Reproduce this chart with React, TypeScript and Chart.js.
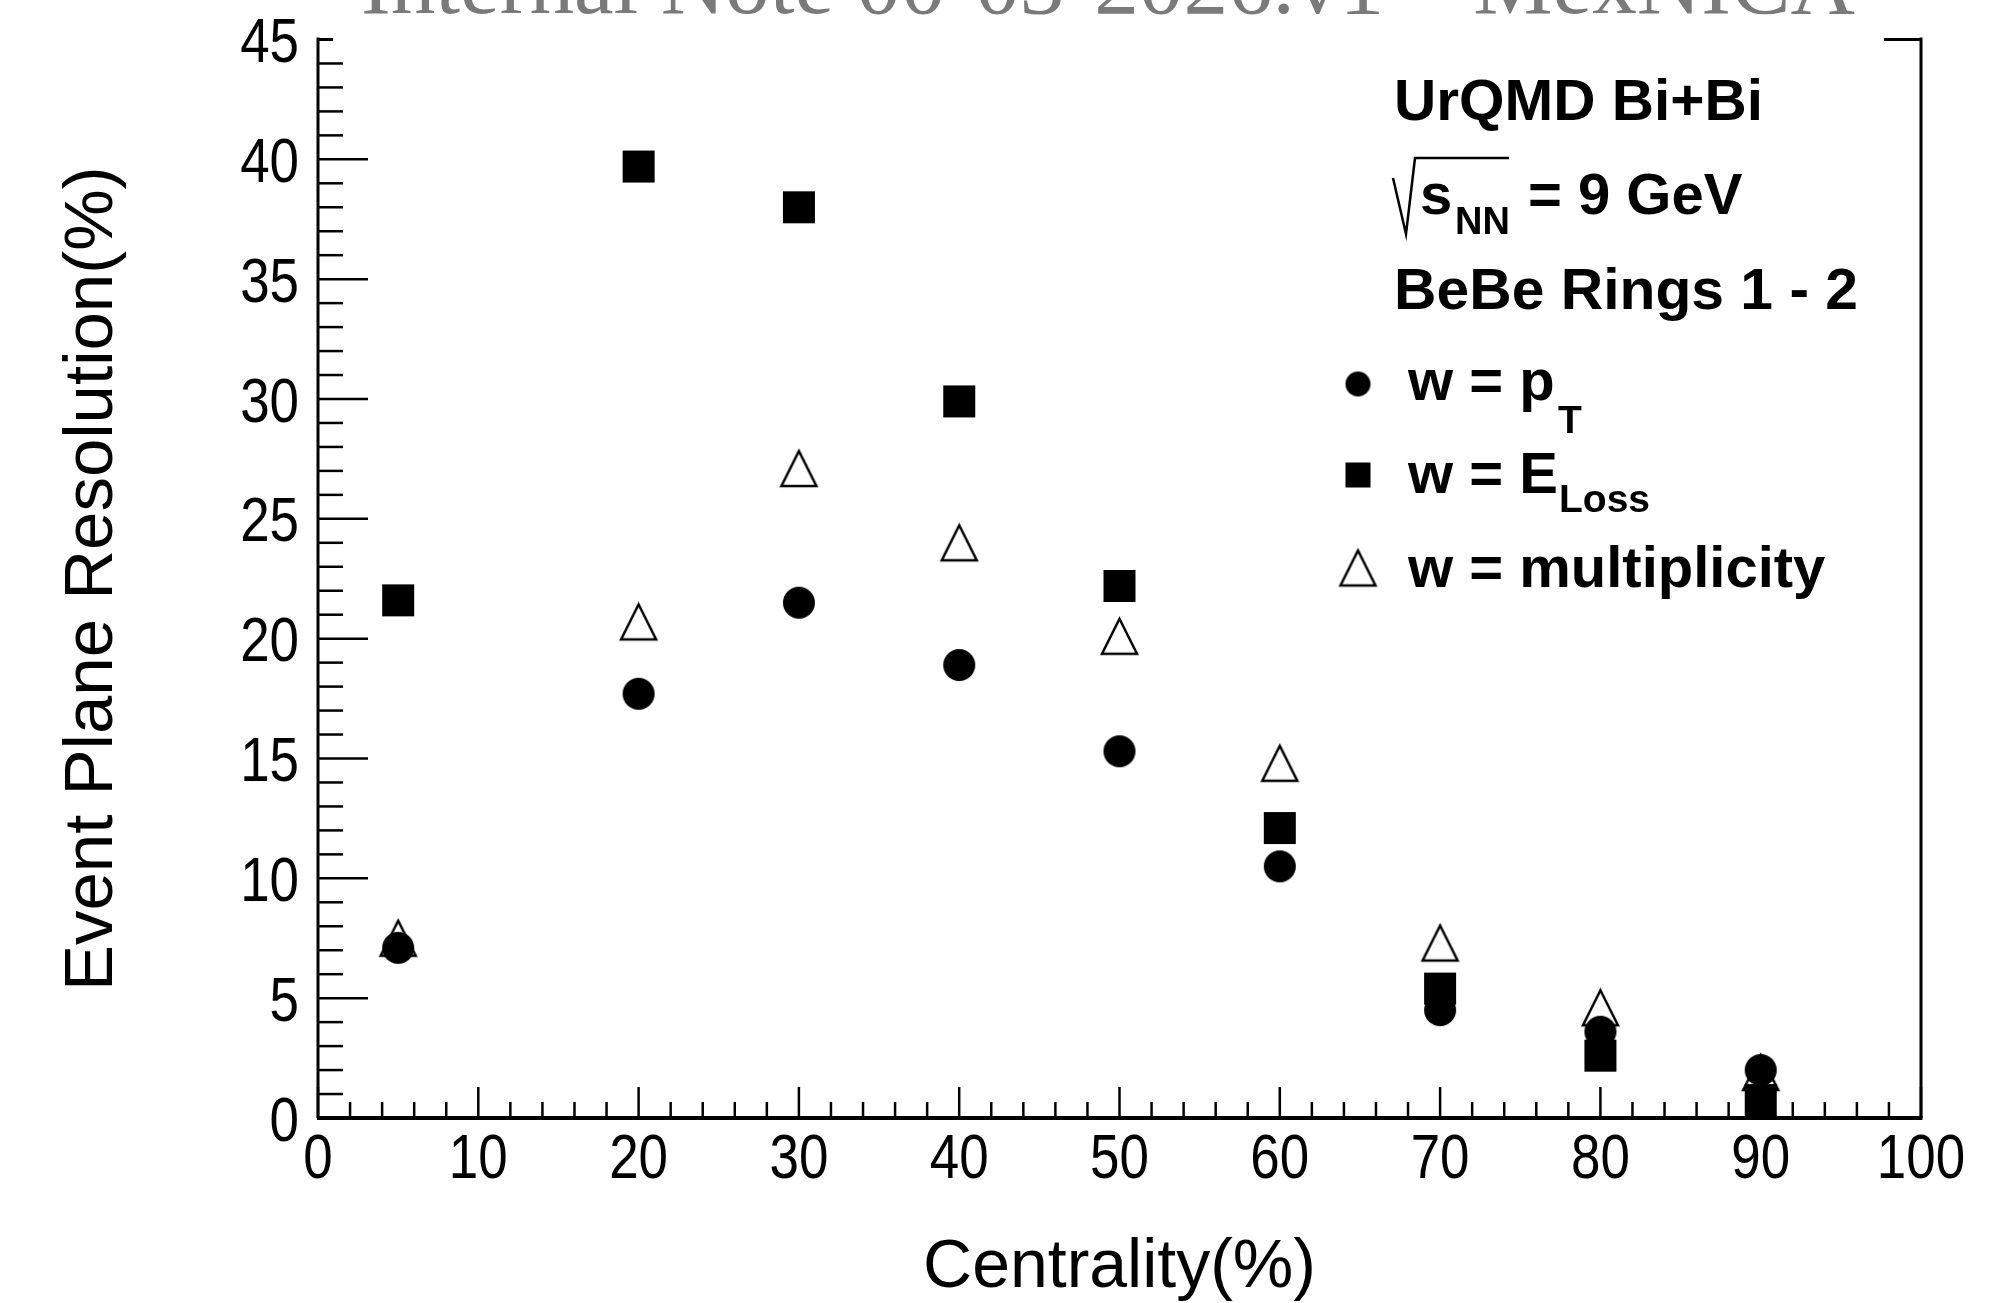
import React, { useEffect, useRef } from 'react';
import { Chart, registerables } from 'chart.js';

Chart.register(...registerables);

// ---- data ----
const centrality = [5, 20, 30, 40, 50, 60, 70, 80, 90];
const resolutionPt = [7.1, 17.7, 21.5, 18.9, 15.3, 10.5, 4.5, 3.6, 2.0];
const resolutionEloss = [21.6, 39.7, 38.0, 29.9, 22.2, 12.1, 5.4, 2.6, 0.75];
const resolutionMult = [7.5, 20.7, 27.1, 24.0, 20.1, 14.8, 7.3, 4.6, 1.9];

const xTitle = 'Centrality(%)';
const yTitle = 'Event Plane Resolution(%)';
const headerText = 'Internal Note 00-03-2026.v1 \u2013 MexNICA';
const systemLabel = 'UrQMD Bi+Bi';
const energyLabel = '= 9 GeV';
const detectorLabel = 'BeBe Rings 1 - 2';
const legendMain = ['w = p', 'w = E', 'w = multiplicity'];
const legendSub = ['T', 'Loss', ''];

const SANS = '"Liberation Sans", Arimo, Arial, sans-serif';
const SERIF = '"Liberation Serif", "DejaVu Serif", serif';

type Kind = 'circle' | 'square' | 'triangle';

function makeMarker(kind: Kind, size: number): HTMLCanvasElement {
  const pad = 3;
  const c = document.createElement('canvas');
  const dim = Math.ceil(size + 2 * pad);
  c.width = dim;
  c.height = dim;
  const g = c.getContext('2d')!;
  const m = dim / 2;
  g.fillStyle = '#000';
  g.strokeStyle = '#000';
  if (kind === 'circle') {
    g.beginPath();
    g.arc(m, m, size / 2, 0, Math.PI * 2);
    g.fill();
  } else if (kind === 'square') {
    g.fillRect(m - size / 2, m - size / 2, size, size);
  } else {
    g.lineWidth = 2.5;
    g.lineJoin = 'miter';
    g.beginPath();
    g.moveTo(m, m - size / 2);
    g.lineTo(m + size / 2, m + size / 2);
    g.lineTo(m - size / 2, m + size / 2);
    g.closePath();
    g.stroke();
  }
  return c;
}

function fitText(ctx: CanvasRenderingContext2D, text: string, x: number, y: number, width: number) {
  const w = ctx.measureText(text).width;
  ctx.save();
  ctx.translate(x, y);
  ctx.scale(width / w, 1);
  ctx.fillText(text, 0, 0);
  ctx.restore();
}

// narrow (condensed) tick label, as in the reference
function narrowText(ctx: CanvasRenderingContext2D, text: string, x: number, y: number, align: CanvasTextAlign) {
  ctx.save();
  ctx.translate(x, y);
  ctx.scale(0.84, 1);
  ctx.textAlign = align;
  ctx.fillText(text, 0, 0);
  ctx.restore();
}

export default function App() {
  const canvasRef = useRef<HTMLCanvasElement | null>(null);

  useEffect(() => {
    document.body.style.margin = '0';
    document.body.style.overflow = 'hidden';
    const canvas = canvasRef.current;
    if (!canvas) return;

    const circle = makeMarker('circle', 32);
    const square = makeMarker('square', 32);
    const triangle = makeMarker('triangle', 35);
    const legCircle = makeMarker('circle', 25);
    const legSquare = makeMarker('square', 25);
    const legTriangle = makeMarker('triangle', 35);

    const framePlugin = {
      id: 'rootFrame',
      beforeDatasetsDraw(chart: any) {
        const { ctx, chartArea: a, scales } = chart;
        const x = scales.x;
        const y = scales.y;
        const line = (x1: number, y1: number, x2: number, y2: number) => {
          ctx.beginPath();
          ctx.moveTo(x1, y1);
          ctx.lineTo(x2, y2);
          ctx.stroke();
        };
        ctx.save();
        ctx.strokeStyle = '#000';
        ctx.lineCap = 'butt';
        ctx.lineWidth = 2.5;
        for (let v = y.min; v <= y.max + 1e-9; v += 1) {
          const py = y.getPixelForValue(v);
          const len = Math.round(v) % 5 === 0 ? 50 : 25;
          line(a.left, py, a.left + len, py);
        }
        for (let v = x.min; v <= x.max + 1e-9; v += 2) {
          const px = x.getPixelForValue(v);
          const len = Math.round(v) % 10 === 0 ? 31 : 16;
          line(px, a.bottom, px, a.bottom - len);
        }
        ctx.lineWidth = 3;
        line(a.left, a.top - 2, a.left, a.bottom);
        line(a.right, a.top - 2, a.right, a.bottom);
        line(a.left, a.top, a.right, a.top);
        ctx.lineWidth = 4;
        line(a.left - 1, a.bottom, a.right + 1.5, a.bottom);

        // tick labels from the library's scales
        ctx.fillStyle = '#000';
        ctx.font = `63px ${SANS}`;
        ctx.textBaseline = 'alphabetic';
        for (const t of y.ticks) {
          const py = y.getPixelForValue(t.value);
          narrowText(ctx, String(t.value), a.left - 19, py + 22.5, 'right');
        }
        for (const t of x.ticks) {
          const px = x.getPixelForValue(t.value);
          narrowText(ctx, String(t.value), px, a.bottom + 60, 'center');
        }
        ctx.restore();
      },
      afterDraw(chart: any) {
        const { ctx, chartArea: a } = chart;
        ctx.save();
        // header pave
        ctx.fillStyle = '#fff';
        ctx.fillRect(a.left + 15, 0, 1884 - a.left - 15, a.top + 8);
        ctx.fillStyle = '#7a7a7a';
        ctx.textBaseline = 'alphabetic';
        ctx.textAlign = 'left';
        ctx.font = `100px ${SERIF}`;
        const hw = ctx.measureText(headerText).width;
        const hs = (100 * 1494) / hw;
        ctx.font = `${hs}px ${SERIF}`;
        ctx.fillText(headerText, 361, 13);

        // annotation
        ctx.fillStyle = '#000';
        ctx.font = `bold 58px ${SANS}`;
        fitText(ctx, systemLabel, 1394, 120, 369);

        ctx.strokeStyle = '#000';
        ctx.lineWidth = 2.5;
        ctx.beginPath();
        ctx.moveTo(1393, 178);
        ctx.lineTo(1406, 234);
        ctx.lineTo(1415, 158);
        ctx.lineTo(1509, 158);
        ctx.stroke();
        ctx.font = `bold 58px ${SANS}`;
        ctx.fillText('s', 1420, 214);
        ctx.font = `bold 38px ${SANS}`;
        ctx.fillText('NN', 1455, 234);
        ctx.font = `bold 58px ${SANS}`;
        ctx.fillText(energyLabel, 1528, 214);

        fitText(ctx, detectorLabel, 1394, 309, 464);

        // legend
        const marks = [legCircle, legSquare, legTriangle];
        const my = [384, 475, 568];
        const base = [400, 493, 587];
        const subX = [1558, 1559, 0];
        const subBase = [433, 512, 0];
        for (let i = 0; i < 3; i++) {
          const m = marks[i];
          ctx.drawImage(m, 1358 - m.width / 2, my[i] - m.height / 2);
          ctx.font = `bold 58px ${SANS}`;
          ctx.fillText(legendMain[i], 1408, base[i]);
          if (legendSub[i]) {
            ctx.font = `bold 39px ${SANS}`;
            ctx.fillText(legendSub[i], subX[i], subBase[i]);
          }
        }
        ctx.restore();
      },
    };

    const chart = new Chart(canvas, {
      type: 'scatter',
      data: {
        datasets: [
          {
            label: 'w = pT',
            data: centrality.map((c, i) => ({ x: c, y: resolutionPt[i] })),
            pointStyle: circle as any,
            pointRadius: 16,
            showLine: false,
          },
          {
            label: 'w = ELoss',
            data: centrality.map((c, i) => ({ x: c, y: resolutionEloss[i] })),
            pointStyle: square as any,
            pointRadius: 16,
            showLine: false,
          },
          {
            label: 'w = multiplicity',
            data: centrality.map((c, i) => ({ x: c, y: resolutionMult[i] })),
            pointStyle: triangle as any,
            pointRadius: 16,
            showLine: false,
          },
        ],
      },
      options: {
        animation: false,
        responsive: true,
        maintainAspectRatio: false,
        events: [],
        layout: { padding: { top: 39.5, right: 76, bottom: 0, left: 0 } },
        plugins: {
          legend: { display: false },
          tooltip: { enabled: false },
          title: { display: false },
        },
        scales: {
          x: {
            type: 'linear',
            min: 0,
            max: 100,
            grid: { display: false, drawTicks: false },
            border: { display: false },
            ticks: { stepSize: 10, autoSkip: false, maxRotation: 0, display: false },
            title: {
              display: true,
              text: xTitle,
              color: '#000',
              font: { family: SANS, size: 68, lineHeight: 1 },
              padding: { top: 0, bottom: 0.5 },
            },
            afterFit: (scale: any) => {
              scale.height = 185;
              scale.paddingLeft = 0;
              scale.paddingRight = 0;
              scale.paddingTop = 0;
              scale.paddingBottom = 0;
            },
          },
          y: {
            type: 'linear',
            min: 0,
            max: 45,
            grid: { display: false, drawTicks: false },
            border: { display: false },
            ticks: { stepSize: 5, autoSkip: false, display: false },
            title: {
              display: true,
              text: yTitle,
              color: '#000',
              font: { family: SANS, size: 69, lineHeight: 1 },
              padding: { top: 58, bottom: 0 },
            },
            afterFit: (scale: any) => {
              scale.width = 318;
              scale.paddingLeft = 0;
              scale.paddingRight = 0;
              scale.paddingTop = 0;
              scale.paddingBottom = 0;
            },
          },
        },
      },
      plugins: [framePlugin],
    });

    return () => chart.destroy();
  }, []);

  return (
    <div style={{ position: 'absolute', left: 0, top: 0, width: 1997, height: 1303, background: '#fff' }}>
      <canvas ref={canvasRef} />
    </div>
  );
}
